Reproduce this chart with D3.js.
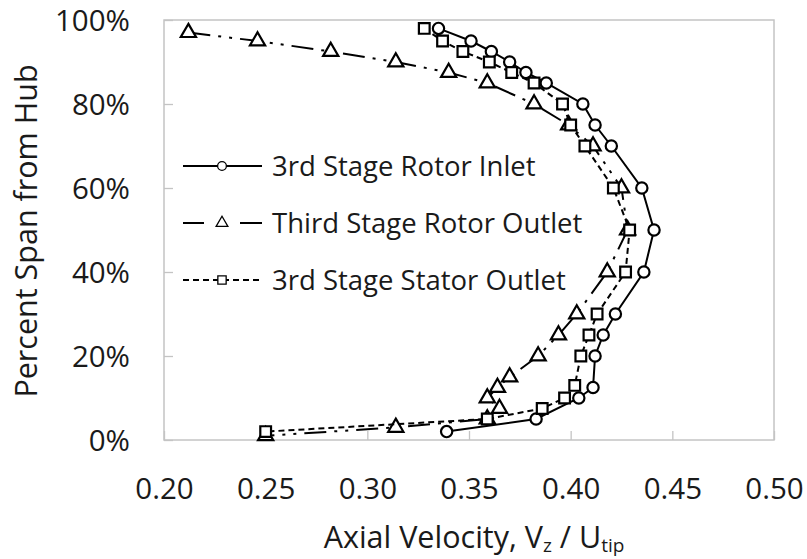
<!DOCTYPE html>
<html>
<head>
<meta charset="utf-8">
<script src="https://cdn.jsdelivr.net/npm/d3@7/dist/d3.min.js"></script>
<style>
  html, body { margin: 0; padding: 0; background: #fff; }
  svg { display: block; }
  text { font-family: "Open Sans", "Noto Sans", sans-serif; fill: #1a1a1a; }
</style>
</head>
<body>
<svg id="chart" width="807" height="559"></svg>
<script>
// Axial velocity profiles (Vz/Utip) versus percent span from hub
const seriesNames = ["3rd Stage Rotor Inlet", "Third Stage Rotor Outlet", "3rd Stage Stator Outlet"];

const rotorInletVz   = [0.335, 0.351, 0.361, 0.370, 0.378, 0.388, 0.406, 0.412, 0.420, 0.435, 0.441, 0.436, 0.422, 0.416, 0.412, 0.411, 0.404, 0.383, 0.339];
const rotorInletSpan = [98, 95, 92.5, 90, 87.5, 85, 80, 75, 70, 60, 50, 40, 30, 25, 20, 12.5, 10, 5, 2];

const rotorOutletVz   = [0.212, 0.246, 0.282, 0.314, 0.340, 0.359, 0.382, 0.399, 0.411, 0.425, 0.428, 0.418, 0.403, 0.394, 0.384, 0.370, 0.364, 0.359, 0.365, 0.359, 0.314, 0.250];
const rotorOutletSpan = [97, 95, 92.5, 90, 87.5, 85, 80, 75, 70, 60, 50, 40, 30, 25, 20, 15, 12.5, 10, 7.5, 5, 3, 1];

const statorOutletVz   = [0.328, 0.337, 0.347, 0.360, 0.371, 0.382, 0.396, 0.400, 0.407, 0.421, 0.429, 0.427, 0.413, 0.409, 0.405, 0.402, 0.397, 0.386, 0.359, 0.250];
const statorOutletSpan = [98, 95, 92.5, 90, 87.5, 85, 80, 75, 70, 60, 50, 40, 30, 25, 20, 13, 10, 7.5, 5, 2];

const xTicks = [0.20, 0.25, 0.30, 0.35, 0.40, 0.45, 0.50];
const yTicks = [0, 20, 40, 60, 80, 100];

const svg = d3.select("#chart");
const x = d3.scaleLinear().domain([0.20, 0.50]).range([164, 774]);
const y = d3.scaleLinear().domain([0, 100]).range([440, 20]);

// plot frame
svg.append("rect")
  .attr("x", x(0.20)).attr("y", y(100))
  .attr("width", x(0.50) - x(0.20)).attr("height", y(0) - y(100))
  .attr("fill", "none").attr("stroke", "#c4c4c4").attr("stroke-width", 1.5);

// axes with inward ticks
const xAxis = d3.axisBottom(x).tickValues(xTicks).tickFormat(d3.format(".2f")).tickSizeInner(-9).tickSizeOuter(0);
const yAxis = d3.axisLeft(y).tickValues(yTicks).tickFormat(d => d + "%").tickSizeInner(-9).tickSizeOuter(0);

const gx = svg.append("g").attr("transform", `translate(0,${y(0)})`).call(xAxis);
const gy = svg.append("g").attr("transform", `translate(${x(0.20)},0)`).call(yAxis);
[gx, gy].forEach(g => {
  g.select(".domain").remove();
  g.selectAll(".tick line").attr("stroke", "#c4c4c4").attr("stroke-width", 1.3);
  g.selectAll(".tick text").attr("font-size", 29.5).attr("fill", "#111")
    .attr("font-family", "'Open Sans', sans-serif");
});
gx.selectAll(".tick text").attr("y", 59).attr("dy", null);
gy.selectAll(".tick text").attr("x", -34).attr("dy", "0.36em");

// axis titles
svg.append("text")
  .attr("transform", "translate(37,231) rotate(-90)")
  .attr("text-anchor", "middle").attr("font-size", 30.5)
  .text("Percent Span from Hub");

const xt = svg.append("text")
  .attr("x", 474).attr("y", 548).attr("text-anchor", "middle").attr("font-size", 30.5);
xt.append("tspan").text("Axial Velocity, V");
xt.append("tspan").attr("font-size", 19).attr("dy", 4).text("z");
xt.append("tspan").attr("dy", -4).text(" / U");
xt.append("tspan").attr("font-size", 19).attr("dy", 4).text("tip");

// series definitions
const series = [
  { name: seriesNames[0], vz: rotorInletVz, span: rotorInletSpan, dash: null, marker: "circle" },
  { name: seriesNames[1], vz: rotorOutletVz, span: rotorOutletSpan, dash: "22,8,3,8,3,8", marker: "triangle" },
  { name: seriesNames[2], vz: statorOutletVz, span: statorOutletSpan, dash: "6,4", marker: "square" }
];

const symbolType = { circle: d3.symbolCircle, triangle: d3.symbolTriangle, square: d3.symbolSquare };
const symbolSize = { circle: 100, triangle: 100, square: 115 };

const line = d3.line().x(d => x(d[0])).y(d => y(d[1]));

series.forEach(s => {
  const pts = s.vz.map((v, i) => [v, s.span[i]]);
  svg.append("path")
    .datum(pts)
    .attr("d", line)
    .attr("fill", "none")
    .attr("stroke", "#000")
    .attr("stroke-width", 2)
    .attr("stroke-dasharray", s.dash);
  svg.append("g").selectAll("path")
    .data(pts)
    .join("path")
    .attr("transform", d => `translate(${x(d[0])},${y(d[1])})`)
    .attr("d", d3.symbol(symbolType[s.marker], symbolSize[s.marker]))
    .attr("fill", "#fff")
    .attr("stroke", "#000")
    .attr("stroke-width", 2.2);
});

// legend
const legendY = [166, 223, 280];
series.forEach((s, i) => {
  const g = svg.append("g").attr("transform", `translate(0,${legendY[i]})`);
  if (i === 1) {
    g.append("line").attr("x1", 183).attr("x2", 204).attr("y1", 0).attr("y2", 0)
      .attr("stroke", "#000").attr("stroke-width", 2);
    g.append("line").attr("x1", 240).attr("x2", 262).attr("y1", 0).attr("y2", 0)
      .attr("stroke", "#000").attr("stroke-width", 2);
  } else {
    g.append("line")
      .attr("x1", 183).attr("x2", 262).attr("y1", 0).attr("y2", 0)
      .attr("stroke", "#000").attr("stroke-width", 2)
      .attr("stroke-dasharray", s.dash);
  }
  g.append("path")
    .attr("transform", "translate(222,0)")
    .attr("d", d3.symbol(symbolType[s.marker], symbolSize[s.marker] * 0.6))
    .attr("fill", "#fff").attr("stroke", "#000").attr("stroke-width", 1.3);
  g.append("text")
    .attr("x", 272).attr("y", 0).attr("dy", "0.36em")
    .attr("font-size", 27.5).attr("fill", "#262626")
    .text(s.name);
});
</script>
</body>
</html>
